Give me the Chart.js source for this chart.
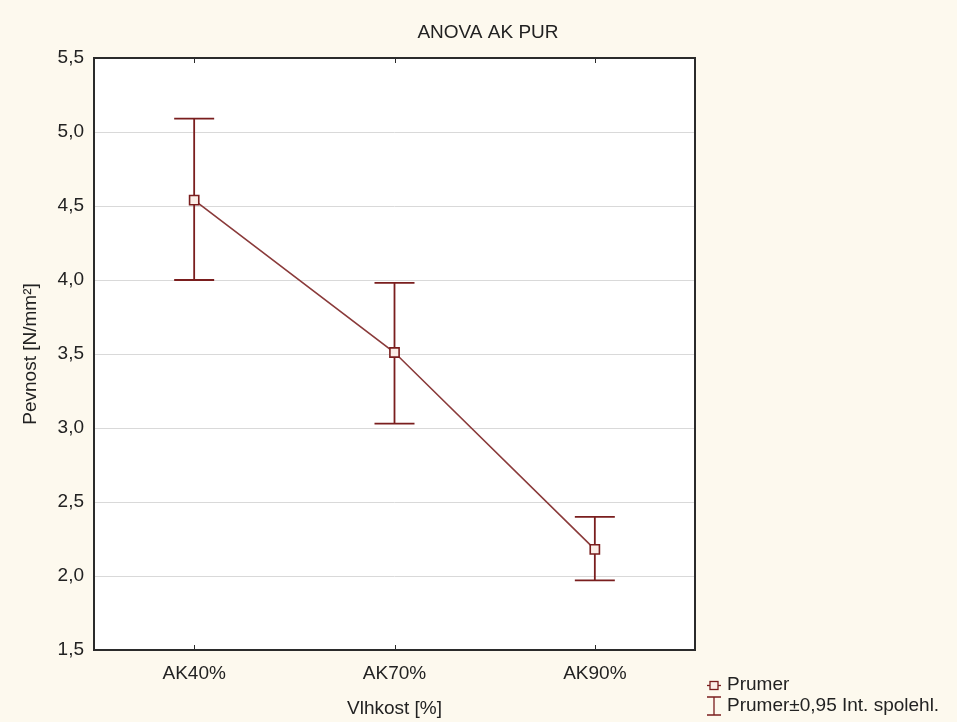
<!DOCTYPE html>
<html>
<head>
<meta charset="utf-8">
<script src="https://cdn.jsdelivr.net/npm/chart.js@4/dist/chart.umd.min.js"></script>
<style>
html,body{margin:0;padding:0;background:#fdf9ee;}
#wrap{width:957px;height:722px;position:relative;}
</style>
</head>
<body>
<div id="wrap"><canvas id="c" width="957" height="722"></canvas></div>
<script>
const chartTitle = 'ANOVA AK PUR';
const categories = ['AK40%', 'AK70%', 'AK90%'];
const meanValues = [4.54, 3.51, 2.18];
const upperValues = [5.09, 3.98, 2.40];
const lowerValues = [4.00, 3.03, 1.97];
const yTicks = [1.5, 2.0, 2.5, 3.0, 3.5, 4.0, 4.5, 5.0, 5.5];
const xAxisTitle = 'Vlhkost [%]';
const yAxisTitle = 'Pevnost [N/mm²]';
const legendMean = 'Prumer';
const legendCI = 'Prumer±0,95 Int. spolehl.';

const FONT = '"Liberation Sans", Arial, sans-serif';
const FS = 19;
const RED = '#7a1e1e';

const framePlugin = {
  id: 'frame',
  beforeDraw(chart) {
    const {ctx, chartArea: a} = chart;
    ctx.save();
    ctx.fillStyle = '#fdf9ee';
    ctx.fillRect(0, 0, chart.width, chart.height);
    ctx.fillStyle = '#ffffff';
    ctx.fillRect(a.left, a.top, a.right - a.left, a.bottom - a.top);
    ctx.restore();
  },
  beforeDatasetsDraw(chart) {
    const {ctx} = chart;
    const x = chart.scales.x, y = chart.scales.y;
    ctx.save();
    ctx.strokeStyle = RED;
    ctx.lineWidth = 1.8;
    const cap = 20;
    meanValues.forEach((m, i) => {
      const px = x.getPixelForValue(i);
      const yu = y.getPixelForValue(upperValues[i]);
      const yl = y.getPixelForValue(lowerValues[i]);
      ctx.beginPath();
      ctx.moveTo(px, yu); ctx.lineTo(px, yl);
      ctx.moveTo(px - cap, yu); ctx.lineTo(px + cap, yu);
      ctx.moveTo(px - cap, yl); ctx.lineTo(px + cap, yl);
      ctx.stroke();
    });
    ctx.restore();
  },
  afterDraw(chart) {
    const {ctx, chartArea: a} = chart;
    const x = chart.scales.x;
    ctx.save();
    ctx.strokeStyle = '#2b2b2b';
    ctx.lineWidth = 2;
    ctx.strokeRect(a.left, a.top, a.right - a.left, a.bottom - a.top);
    ctx.lineWidth = 1;
    categories.forEach((c, i) => {
      const px = Math.round(x.getPixelForValue(i)) + 0.5;
      ctx.beginPath();
      ctx.moveTo(px, a.top); ctx.lineTo(px, a.top + 5);
      ctx.moveTo(px, a.bottom); ctx.lineTo(px, a.bottom - 5);
      ctx.stroke();
    });
    ctx.fillStyle = '#222';
    ctx.font = FS + 'px ' + FONT;
    ctx.textAlign = 'center';
    ctx.textBaseline = 'middle';
    ctx.fillText(chartTitle, 488, 33);
    ctx.textAlign = 'left';
    const lx = 714, ly1 = 685, ly2 = 706;
    ctx.strokeStyle = RED;
    ctx.lineWidth = 1.3;
    ctx.beginPath();
    ctx.moveTo(lx - 7, ly1 + 0.5); ctx.lineTo(lx + 7, ly1 + 0.5);
    ctx.stroke();
    ctx.fillStyle = '#fbeee8';
    ctx.fillRect(lx - 4, ly1 - 3.5, 8, 8);
    ctx.strokeRect(lx - 4, ly1 - 3.5, 8, 8);
    ctx.beginPath();
    ctx.moveTo(lx - 7, ly2 - 9); ctx.lineTo(lx + 7, ly2 - 9);
    ctx.moveTo(lx, ly2 - 9); ctx.lineTo(lx, ly2 + 9);
    ctx.moveTo(lx - 7, ly2 + 9); ctx.lineTo(lx + 7, ly2 + 9);
    ctx.stroke();
    ctx.fillStyle = '#222';
    ctx.fillText(legendMean, 727, ly1);
    ctx.fillText(legendCI, 727, ly2);
    ctx.restore();
  }
};

new Chart(document.getElementById('c'), {
  type: 'line',
  data: {
    labels: categories,
    datasets: [{
      label: legendMean,
      data: meanValues,
      borderColor: '#8a3a3a',
      borderWidth: 1.6,
      pointStyle: 'rect',
      pointRadius: 6.5,
      pointBorderWidth: 1.6,
      pointBorderColor: RED,
      pointBackgroundColor: '#fbeee8',
      tension: 0
    }]
  },
  options: {
    responsive: false,
    animation: false,
    devicePixelRatio: 1,
    layout: {padding: {top: 58, right: 262, left: 0, bottom: 0}},
    plugins: {legend: {display: false}, title: {display: false}, tooltip: {enabled: false}},
    scales: {
      x: {
        type: 'category',
        offset: true,
        grid: {display: false, drawTicks: false},
        border: {display: false},
        ticks: {color: '#222', font: {family: FONT, size: FS}, padding: 12, maxRotation: 0},
        title: {display: true, text: xAxisTitle, color: '#222', font: {family: FONT, size: FS}, padding: {top: 4, bottom: 2}},
        afterFit(s) { s.height = 72; }
      },
      y: {
        min: 1.5, max: 5.5,
        afterBuildTicks(s) { s.ticks = yTicks.map(v => ({value: v})); },
        grid: {color: '#d9d9d9', lineWidth: 1, drawTicks: false},
        border: {display: false},
        ticks: {color: '#222', font: {family: FONT, size: FS}, padding: 10,
          callback: v => Number(v).toFixed(1).replace('.', ',')},
        title: {display: true, text: yAxisTitle, color: '#222', font: {family: FONT, size: FS}, padding: {top: 19, bottom: 4}},
        afterFit(s) { s.width = 94; }
      }
    }
  },
  plugins: [framePlugin]
});
</script>
</body>
</html>
